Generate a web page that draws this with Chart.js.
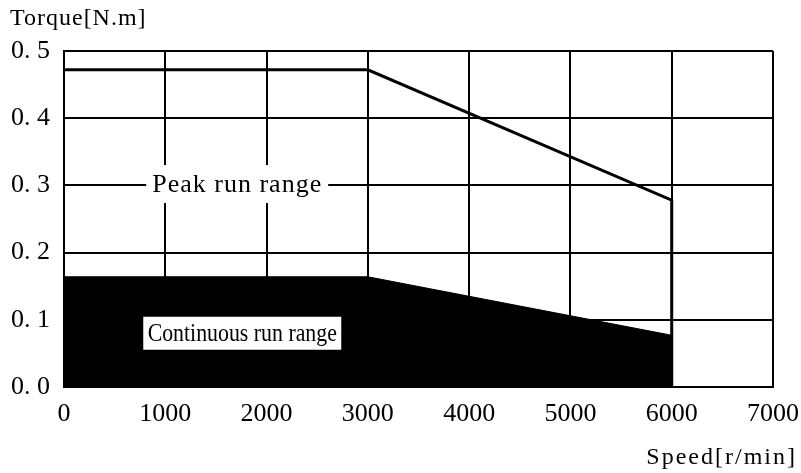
<!DOCTYPE html>
<html>
<head>
<meta charset="utf-8">
<script src="https://cdn.jsdelivr.net/npm/chart.js@4"></script>
<style>
  html, body { margin: 0; padding: 0; background: #fff; }
  #wrap { width: 801px; height: 473px; }
</style>
</head>
<body>
<div id="wrap"><canvas id="torqueChart" width="801" height="473"></canvas></div>
<script>
// Speed (r/min) and torque (N.m)
const peakSpeed = [0, 3000, 6000, 6000];
const peakTorque = [0.472, 0.472, 0.278, 0];
const contSpeed = [0, 3000, 6000, 6000];
const contTorque = [0.164, 0.164, 0.077, 0];

const xTicks = [0, 1000, 2000, 3000, 4000, 5000, 6000, 7000];
const yTicks = [0, 0.1, 0.2, 0.3, 0.4, 0.5];

const FONT = 'Liberation Serif';

function toPoints(xs, ys) {
  return xs.map((x, i) => ({ x: x, y: ys[i] }));
}

// Region labels with a white box behind them, anchored in data units
const regionLabels = [
  { text: 'Peak run range', x: 1710, y: 0.302, size: 26, sx: 1.0, spacing: '1px', boxW: 182, boxH: 38 },
  { text: 'Continuous run range', x: 1760, y: 0.08, size: 26, sx: 0.84, spacing: '0px', boxW: 198, boxH: 33 }
];

function stretchedText(ctx, text, x, y, sx) {
  ctx.save();
  ctx.translate(x, y);
  ctx.scale(sx, 1);
  ctx.fillText(text, 0, 0);
  ctx.restore();
}

const labelPlugin = {
  id: 'labels',
  afterDatasetsDraw(chart) {
    const ctx = chart.ctx;
    const xs = chart.scales.x;
    const ys = chart.scales.y;
    ctx.save();
    ctx.textAlign = 'center';
    ctx.textBaseline = 'middle';
    regionLabels.forEach(l => {
      ctx.font = l.size + 'px "' + FONT + '"';
      ctx.letterSpacing = l.spacing;
      const cx = xs.getPixelForValue(l.x);
      const cy = ys.getPixelForValue(l.y);
      ctx.fillStyle = '#fff';
      ctx.fillRect(cx - l.boxW / 2, cy - l.boxH / 2, l.boxW, l.boxH);
      ctx.fillStyle = '#000';
      stretchedText(ctx, l.text, cx, cy + 1, l.sx);
    });

    // axis titles
    ctx.font = '24px "' + FONT + '"';
    ctx.textBaseline = 'alphabetic';
    ctx.textAlign = 'left';
    ctx.letterSpacing = '1px';
    ctx.fillText('Torque[N.m]', 10, 25);
    ctx.textAlign = 'right';
    ctx.letterSpacing = '2px';
    ctx.fillText('Speed[r/min]', 797, 464);
    ctx.restore();
  }
};

const ctx = document.getElementById('torqueChart').getContext('2d');
const chart = new Chart(ctx, {
  type: 'scatter',
  data: {
    datasets: [
      {
        label: 'Continuous run range',
        data: toPoints(contSpeed, contTorque),
        showLine: true,
        borderColor: '#000',
        backgroundColor: '#000',
        borderWidth: 1,
        pointRadius: 0,
        fill: 'origin',
        tension: 0
      },
      {
        label: 'Peak run range',
        data: toPoints(peakSpeed, peakTorque),
        showLine: true,
        borderColor: '#000',
        borderWidth: 3,
        pointRadius: 0,
        fill: false,
        tension: 0
      }
    ]
  },
  options: {
    responsive: false,
    animation: false,
    layout: { padding: { left: 10, right: 28, top: 51, bottom: 0 } },
    plugins: {
      legend: { display: false },
      tooltip: { enabled: false }
    },
    scales: {
      x: {
        type: 'linear',
        min: 0,
        max: 7000,
        afterBuildTicks: s => { s.ticks = xTicks.map(v => ({ value: v })); },
        afterFit: s => { s.height = 86; s.paddingLeft = 0; s.paddingRight = 0; },
        grid: { color: '#000', lineWidth: 2, drawTicks: false },
        border: { display: true, color: '#000', width: 2 },
        ticks: {
          color: '#000',
          padding: 12,
          font: { family: FONT, size: 26 },
          callback: v => String(v)
        }
      },
      y: {
        type: 'linear',
        min: 0,
        max: 0.5,
        afterBuildTicks: s => { s.ticks = yTicks.map(v => ({ value: v })); },
        afterFit: s => { s.width = 54; s.paddingTop = 0; s.paddingBottom = 0; },
        grid: { color: '#000', lineWidth: 2, drawTicks: false },
        border: { display: true, color: '#000', width: 2 },
        ticks: {
          color: '#000',
          padding: 14,
          font: { family: FONT, size: 26 },
          callback: v => v.toFixed(1).replace('.', '. ')
        }
      }
    }
  },
  plugins: [labelPlugin]
});
</script>
</body>
</html>
